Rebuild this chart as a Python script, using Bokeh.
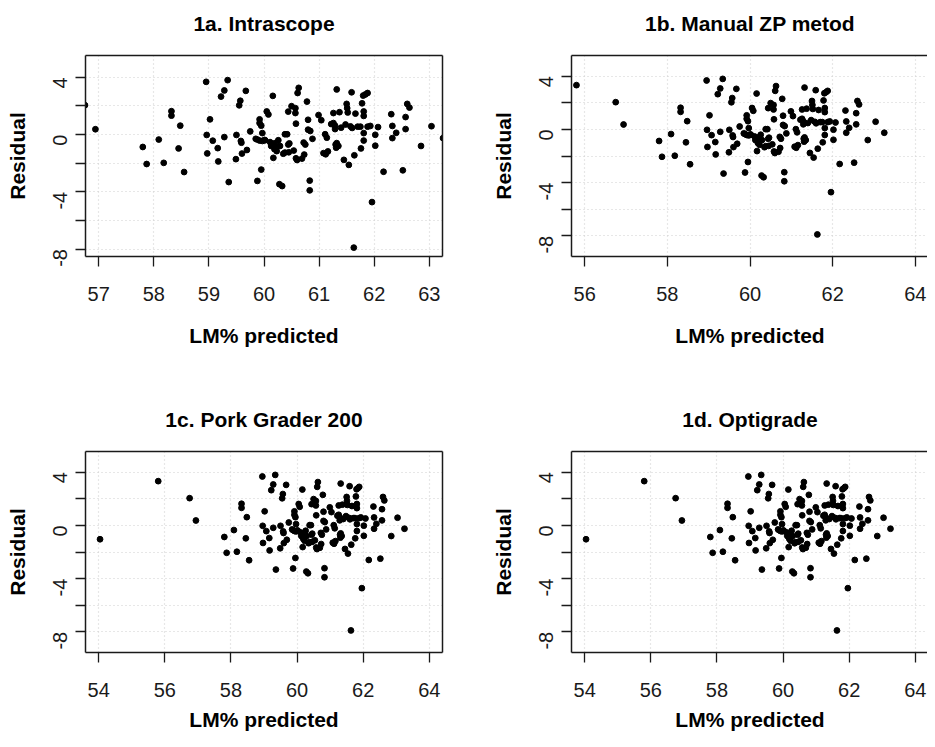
import math
from bokeh.plotting import figure
from bokeh.models import LinearAxis, FixedTicker, Range1d, ColumnDataSource, Grid, Label
from bokeh.layouts import column, row
from bokeh.embed import file_html
from bokeh.resources import INLINE

# ---- data (the same residuals appear in all four panels) ----
lm_predicted = [
    54.04, 55.80, 56.75, 56.94, 57.80, 57.87, 58.09, 58.18, 58.32, 58.32,
    58.45, 58.48, 58.55, 58.95, 59.02, 58.96, 58.97, 59.07, 59.16, 59.17,
    59.22, 59.28, 59.28, 59.34, 59.36, 59.50, 59.49, 59.57, 59.55, 59.58,
    59.59, 59.60, 59.67, 59.69, 59.75, 59.88, 59.88, 59.92, 59.92, 59.95,
    59.95, 59.97, 59.85, 59.92, 59.97, 60.01, 60.02, 60.05, 60.08, 60.11,
    60.16, 60.17, 60.19, 60.22, 60.26, 60.28, 60.33, 60.29, 60.38, 60.42,
    60.38, 60.44, 60.50, 60.46, 60.44, 60.54, 60.63, 60.61, 60.57, 60.57,
    60.58, 60.58, 60.60, 60.69, 60.73, 60.72, 60.75, 60.78, 60.80, 60.80,
    60.84, 60.83, 60.83, 60.88, 60.99, 61.04, 61.11, 61.14, 61.08, 61.12,
    61.16, 61.26, 61.26, 61.29, 61.29, 61.32, 61.37, 61.32, 61.31, 61.35,
    61.45, 61.48, 61.50, 61.51, 61.52, 61.54, 61.59, 61.57, 61.60, 61.64,
    61.63, 61.66, 61.70, 61.75, 61.76, 61.78, 61.80, 61.81, 61.81, 61.81,
    61.81, 61.88, 61.93, 61.96, 62.02, 62.02, 62.07, 62.17, 62.31, 62.33,
    62.33, 62.40, 62.52, 62.57, 62.57, 62.60, 62.64, 62.85, 63.04, 63.25,
    60.13, 60.23, 60.35, 60.45, 61.22, 61.40, 61.84, 61.30, 60.20, 61.88,
]
residual = [
    -1.04, 3.33, 2.05, 0.37, -0.87, -2.06, -0.35, -1.98, 1.63, 1.32,
    -0.97, 0.62, -2.62, 3.68, 1.06, -0.03, -1.32, -0.43, -0.95, -1.88,
    2.65, 3.08, -0.18, 3.80, -3.32, -0.03, -1.72, 2.36, 2.04, -0.45,
    -0.57, -1.33, 3.05, -1.08, 0.22, -3.24, -0.35, 1.06, 0.80, 0.62,
    -2.45, 0.10, -0.30, -0.42, -0.45, -0.38, -0.40, 1.61, 1.40, -0.53,
    2.70, -1.63, -1.02, -0.92, -0.40, -3.47, -3.60, -0.80, 0.02, 0.02,
    -1.26, 1.60, 1.98, -0.62, -0.70, -1.12, 3.26, 2.90, 1.84, 1.50,
    0.76, -1.66, -1.78, -1.68, -1.40, -0.56, -0.70, 2.30, 1.03, 0.34,
    0.25, -3.22, -3.90, -0.30, 1.36, 1.00, 0.02, -0.22, -1.30, -1.38,
    -1.18, 0.80, 1.50, 0.62, 0.38, 3.15, 1.56, -0.60, -0.92, -0.80,
    -1.77, 0.70, 2.14, 1.84, 1.54, -2.12, 2.95, 0.57, 0.46, -1.45,
    -7.90, 1.46, 0.55, 0.55, -0.97, 2.18, 2.72, 1.61, 1.30, 0.10,
    -0.42, 2.90, 0.60, -4.72, -0.02, -0.78, 0.52, -2.60, 1.42, 0.60,
    -0.25, 0.12, -2.50, 1.22, 0.38, 2.14, 1.88, -0.80, 0.58, -0.25,
    -0.80, -1.16, -1.34, -1.24, 0.73, 0.48, 2.80, -0.70, -0.60, 0.55,
]

titles = ["1a. Intrascope", "1b. Manual ZP metod", "1c. Pork Grader 200", "1d. Optigrade"]
x_limits = [(57, 63), (56, 64), (54, 64), (54, 64)]
x_tick_steps = [1, 2, 2, 2]
y_limits = [(-8, 5), (-9, 5), (-9, 5), (-9, 5)]
y_tick_values = [-8, -6, -4, -2, 0, 2, 4]
y_tick_labels = {-8: "-8", -6: "", -4: "-4", -2: "", 0: "0", 2: "", 4: "4"}
x_label = "LM% predicted"
y_label = "Residual"

FONT = "Liberation Sans"
INK = "#1a1a1a"
GRID = "#cfcfcf"
TITLE_RISE = 32              # px from frame top up to the title baseline
XLABEL_DROP = [79, 79, 67, 67]   # px from frame bottom down to the x-label baseline

source = ColumnDataSource(data=dict(x=lm_predicted, y=residual))


def r_range(lo, hi, frac=1.0):
    pad = 0.04 * (hi - lo)
    start, end = lo - pad, hi + pad
    return Range1d(start, start + (end - start) * frac)


def style_axis(ax, tick_standoff):
    ax.axis_line_color = INK
    ax.axis_line_width = 1.5
    ax.major_tick_line_color = INK
    ax.major_tick_line_width = 1.3
    ax.major_tick_out = 10
    ax.major_tick_in = 0
    ax.minor_tick_line_color = None
    ax.minor_tick_out = 0
    ax.major_label_text_font = FONT
    ax.major_label_text_font_size = "20px"
    ax.major_label_text_color = INK
    ax.major_label_standoff = tick_standoff
    ax.axis_label_text_font = FONT
    ax.axis_label_text_font_size = "21px"
    ax.axis_label_text_font_style = "bold"
    ax.axis_label_text_color = "black"
    ax.axis_label_standoff = 15


def make_panel(i, width, height, bl, br, bt, bb, full_frame_w, right_edge):
    frame_w = width - bl - br
    xlo, xhi = x_limits[i]
    ylo, yhi = y_limits[i]
    yr = r_range(ylo, yhi)
    p = figure(width=width, height=height, output_backend="svg", toolbar_location=None,
               title=None,
               x_range=r_range(xlo, xhi, frame_w / full_frame_w), y_range=yr,
               min_border_left=bl, min_border_right=br, min_border_top=bt, min_border_bottom=bb,
               background_fill_color="white", border_fill_color="white",
               x_axis_type=None, y_axis_type=None)
    p.outline_line_color = None

    xticker = FixedTicker(ticks=list(range(xlo, xhi + 1, x_tick_steps[i])))
    yticker = FixedTicker(ticks=y_tick_values)

    xaxis = LinearAxis(ticker=xticker)
    yaxis = LinearAxis(ticker=yticker, axis_label=y_label,
                       major_label_overrides=y_tick_labels,
                       major_label_orientation=math.pi / 2)
    style_axis(xaxis, 20)
    style_axis(yaxis, 15)
    p.add_layout(xaxis, "below")
    p.add_layout(yaxis, "left")

    sides = ["above"] + (["right"] if right_edge else [])
    for side in sides:
        edge = LinearAxis(ticker=FixedTicker(ticks=[]), axis_line_color=INK, axis_line_width=1.5,
                          major_tick_line_color=None, minor_tick_line_color=None,
                          major_tick_out=0, minor_tick_out=0, major_label_standoff=0)
        p.add_layout(edge, side)

    p.add_layout(Grid(dimension=0, ticker=xticker, grid_line_color=GRID, grid_line_dash="1 3",
                      grid_line_width=1.2))
    p.add_layout(Grid(dimension=1, ticker=yticker, grid_line_color=GRID, grid_line_dash="1 3",
                      grid_line_width=1.2))

    # title and x-axis label live in the side panels so they are not clipped to the frame
    x_mid = (xlo + xhi) / 2
    p.add_layout(Label(x=x_mid, y=yr.end, y_offset=TITLE_RISE, text=titles[i],
                       text_align="center", text_baseline="alphabetic",
                       text_font=FONT, text_font_size="21px", text_font_style="bold",
                       text_color="black"), "above")
    p.add_layout(Label(x=x_mid, y=yr.start, y_offset=-XLABEL_DROP[i], text=x_label,
                       text_align="center", text_baseline="alphabetic",
                       text_font=FONT, text_font_size="21px", text_font_style="bold",
                       text_color="black"), "below")

    p.scatter("x", "y", source=source, size=5.8, color="black", line_color="black")
    return p


FULL_W = 357
top_h, bot_h = 396, 335
pa = make_panel(0, 480, top_h, 85, 38, 55, 140, FULL_W, True)
pb = make_panel(1, 447, top_h, 91, 0, 55, 140, FULL_W, False)
pc = make_panel(2, 480, bot_h, 85, 38, 55, 79, FULL_W, True)
pd = make_panel(3, 447, bot_h, 91, 0, 55, 79, FULL_W, False)

layout = column(row(pa, pb), row(pc, pd))
open("out.html", "w").write(file_html(layout, INLINE))
